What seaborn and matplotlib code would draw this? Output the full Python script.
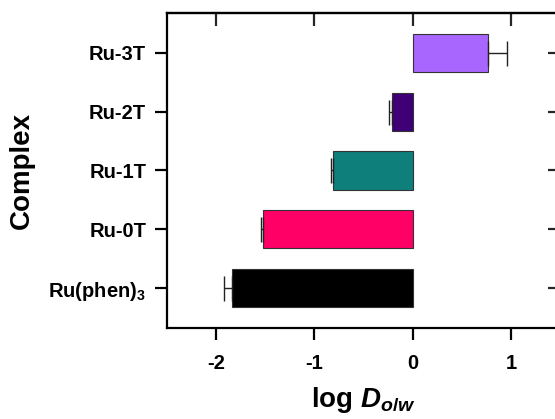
import matplotlib
matplotlib.use("Agg")
import matplotlib.pyplot as plt
import seaborn as sns
import pandas as pd

complexes = ["Ru-3T", "Ru-2T", "Ru-1T", "Ru-0T", "Ru(phen)$_\\mathbf{3}$"]
log_d = [0.77, -0.21, -0.81, -1.52, -1.84]
errors = [0.19, 0.03, 0.02, 0.02, 0.08]
colors = ["#A966FF", "#3F0077", "#0F7F7B", "#FF0066", "#000000"]
x_ticks = [-2, -1, 0, 1]

sns.set_theme(style="ticks")
plt.rcParams["font.family"] = ["Liberation Sans", "DejaVu Sans"]
plt.rcParams["font.weight"] = "bold"
plt.rcParams["text.color"] = "black"
plt.rcParams["axes.labelcolor"] = "black"
plt.rcParams["mathtext.fontset"] = "custom"
plt.rcParams["mathtext.rm"] = "Liberation Sans:bold"
plt.rcParams["mathtext.bf"] = "Liberation Sans:bold"
plt.rcParams["mathtext.it"] = "Liberation Sans:italic:bold"

df = pd.DataFrame({"complex": complexes, "value": log_d})

fig = plt.figure(figsize=(5.55, 4.19), dpi=100)
ax = fig.add_axes([0.3009, 0.2172, 0.7081, 0.7518])

sns.barplot(data=df, x="value", y="complex", hue="complex", palette=colors,
            order=complexes, orient="h", width=0.65, legend=False,
            saturation=1, edgecolor="#333333", linewidth=0.8, ax=ax,
            errorbar=None)

# one-sided error bars pointing away from zero
for i, (v, e) in enumerate(zip(log_d, errors)):
    xerr = [[0], [e]] if v > 0 else [[e], [0]]
    ax.errorbar(v, i, xerr=xerr, fmt="none", ecolor="#222222",
                elinewidth=1.0, capsize=9, capthick=1.0, zorder=3)

ax.set_xlim(-2.5, 1.5)
ax.set_ylim(4.68, -0.68)
ax.set_xticks(x_ticks)
ax.set_xticklabels([str(t) for t in x_ticks])

for s in ax.spines.values():
    s.set_linewidth(1.6)
    s.set_color("black")
    s.set_visible(True)

ax.tick_params(axis="both", direction="out", length=8.5, width=1.6,
               labelsize=14.5, color="black", labelcolor="black")
ax.tick_params(axis="x", pad=10)
ax.tick_params(axis="y", pad=6.5)
for lab in ax.get_xticklabels() + ax.get_yticklabels():
    lab.set_fontweight("bold")

top = ax.secondary_xaxis("top")
top.set_xticks(x_ticks)
top.tick_params(direction="in", length=9, width=1.6, labeltop=False)
right = ax.secondary_yaxis("right")
right.set_yticks(range(len(complexes)))
right.tick_params(direction="in", length=9, width=1.6, labelright=False)
for sec in (top, right):
    for s in sec.spines.values():
        s.set_linewidth(1.6)

ax.set_xlabel("log $\\mathit{D}_{\\mathit{o/w}}$", fontsize=20, fontweight="bold",
              labelpad=9)
ax.set_ylabel("Complex", fontsize=20, fontweight="bold", labelpad=10)

fig.savefig("out.png", dpi=100)
